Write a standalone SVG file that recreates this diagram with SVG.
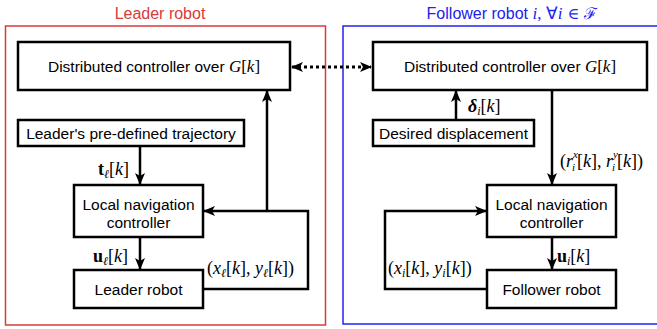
<svg xmlns="http://www.w3.org/2000/svg" width="657" height="329" viewBox="0 0 657 329">
<style>
.box{fill:#fff;stroke:#000;stroke-width:2.5}
.lbl{font-family:"Liberation Sans",Arial,sans-serif;font-size:15.5px;fill:#000;text-anchor:middle}
.m{font-family:"Liberation Serif","Times New Roman",serif;font-size:18px;fill:#000}
.mg{font-family:"Liberation Serif","Times New Roman",serif;font-size:17px}
.i{font-style:italic}
.b{font-weight:bold}
.c{stroke:#000;stroke-width:2.5;fill:none}
.sub{font-size:12px}
.ss{font-size:11px}
.ttl{font-family:"Liberation Sans",Arial,sans-serif;font-size:16px;text-anchor:middle}
</style>
<defs>
<marker id="ah" viewBox="0 0 12 10" refX="11" refY="5" markerWidth="12" markerHeight="10" markerUnits="userSpaceOnUse" orient="auto-start-reverse">
<path d="M0,0 L12,5 L0,10 L3,5 z" fill="#000"/>
</marker>
</defs>
<rect width="657" height="329" fill="#fff"/>
<g id="leader-frame">
<rect x="5.5" y="26" width="320" height="299" fill="none" stroke="#d93a3a" stroke-width="1.5"/>
<text class="ttl" x="160" y="19" fill="#d93a3a">Leader robot</text>
</g>
<g id="follower-frame">
<rect x="343" y="26" width="320" height="298" fill="none" stroke="#2222ee" stroke-width="1.5"/>
<text class="ttl" x="512" y="19" fill="#2222ee">Follower robot <tspan class="mg i">i</tspan><tspan class="mg">, ∀</tspan><tspan class="mg i">i</tspan><tspan style="font-family:'DejaVu Serif',serif;font-size:16px"> ∈ ℱ</tspan></text>
</g>
<g id="leader-dist">
<rect class="box" x="18" y="42" width="272" height="48"/>
<text class="lbl" x="154" y="72">Distributed controller over <tspan class="mg i">G</tspan><tspan class="mg">[</tspan><tspan class="mg i">k</tspan><tspan class="mg">]</tspan></text>
</g>
<g id="leader-traj">
<rect class="box" x="18" y="120" width="226" height="26"/>
<text class="lbl" x="131" y="139">Leader's pre-defined trajectory</text>
</g>
<g id="leader-nav">
<rect class="box" x="74" y="185" width="129" height="52"/>
<text class="lbl" x="138.5" y="210">Local navigation</text>
<text class="lbl" x="138.5" y="228">controller</text>
</g>
<g id="leader-robot">
<rect class="box" x="74" y="270" width="129" height="38"/>
<text class="lbl" x="138.5" y="295">Leader robot</text>
</g>
<g id="follower-dist">
<rect class="box" x="373" y="42" width="274" height="48"/>
<text class="lbl" x="510" y="72">Distributed controller over <tspan class="mg i">G</tspan><tspan class="mg">[</tspan><tspan class="mg i">k</tspan><tspan class="mg">]</tspan></text>
</g>
<g id="follower-disp">
<rect class="box" x="373" y="120" width="161" height="26"/>
<text class="lbl" x="453.5" y="139">Desired displacement</text>
</g>
<g id="follower-nav">
<rect class="box" x="487" y="185" width="129" height="52"/>
<text class="lbl" x="551.5" y="210">Local navigation</text>
<text class="lbl" x="551.5" y="228">controller</text>
</g>
<g id="follower-robot">
<rect class="box" x="487" y="270" width="129" height="38"/>
<text class="lbl" x="551.5" y="295">Follower robot</text>
</g>
<g id="connectors">
<path class="c" d="M140,146 V184" marker-end="url(#ah)"/>
<path class="c" d="M140,237 V269" marker-end="url(#ah)"/>
<path class="c" d="M203,289 H308 V211 H204" marker-end="url(#ah)"/>
<path class="c" d="M267,211 V91" marker-end="url(#ah)"/>
<path d="M292,67 H371" stroke="#000" stroke-width="3" stroke-dasharray="3,3" fill="none" marker-start="url(#ah)" marker-end="url(#ah)"/>
<path class="c" d="M456,120 V91" marker-end="url(#ah)"/>
<path class="c" d="M552,90 V184" marker-end="url(#ah)"/>
<path class="c" d="M552,237 V269" marker-end="url(#ah)"/>
<path class="c" d="M487,289 H385 V211 H486" marker-end="url(#ah)"/>
</g>
<g id="labels">
<text class="m" x="129" y="175" text-anchor="end"><tspan class="b">t</tspan><tspan class="i sub" dy="3">ℓ</tspan><tspan dy="-3">[</tspan><tspan class="i">k</tspan>]</text>
<text class="m" x="128" y="262" text-anchor="end"><tspan class="b">u</tspan><tspan class="i sub" dy="3">ℓ</tspan><tspan dy="-3">[</tspan><tspan class="i">k</tspan>]</text>
<text class="m" x="207" y="274">(<tspan class="i">x</tspan><tspan class="i sub" dy="3">ℓ</tspan><tspan dy="-3">[</tspan><tspan class="i">k</tspan>], <tspan class="i">y</tspan><tspan class="i sub" dy="3">ℓ</tspan><tspan dy="-3">[</tspan><tspan class="i">k</tspan>])</text>
<text class="m" x="468" y="112"><tspan class="b i">δ</tspan><tspan class="i sub" dy="3">i</tspan><tspan dy="-3">[</tspan><tspan class="i">k</tspan>]</text>
<text class="m" x="560" y="167">(<tspan class="i">r</tspan><tspan class="i ss" dy="-9">x</tspan><tspan class="i ss" dx="-6" dy="13">i</tspan><tspan dx="2" dy="-4">[</tspan><tspan class="i">k</tspan>], <tspan class="i">r</tspan><tspan class="i ss" dy="-9">y</tspan><tspan class="i ss" dx="-6" dy="13">i</tspan><tspan dx="2" dy="-4">[</tspan><tspan class="i">k</tspan>])</text>
<text class="m" x="557" y="262"><tspan class="b">u</tspan><tspan class="i sub" dy="3">i</tspan><tspan dy="-3">[</tspan><tspan class="i">k</tspan>]</text>
<text class="m" x="388" y="274">(<tspan class="i">x</tspan><tspan class="i sub" dy="3">i</tspan><tspan dy="-3">[</tspan><tspan class="i">k</tspan>], <tspan class="i">y</tspan><tspan class="i sub" dy="3">i</tspan><tspan dy="-3">[</tspan><tspan class="i">k</tspan>])</text>
</g>
</svg>
